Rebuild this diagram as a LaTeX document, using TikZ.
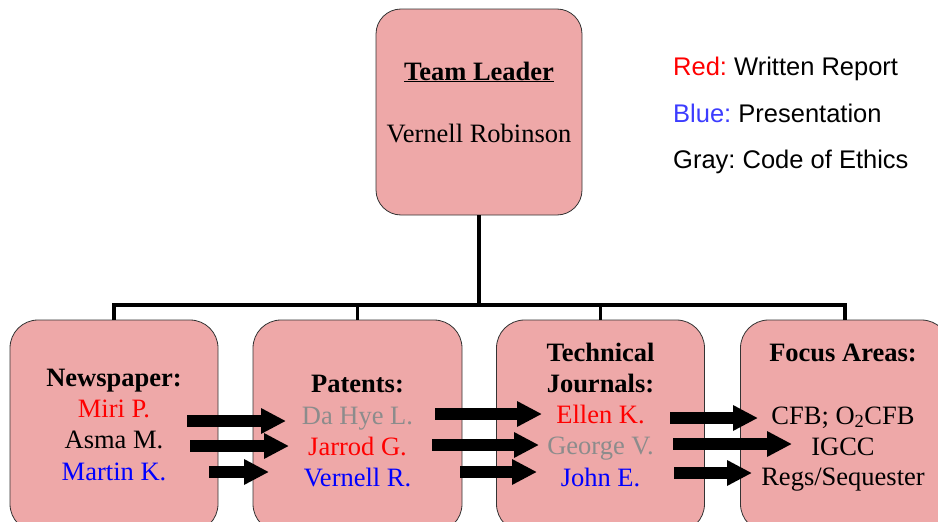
\documentclass[tikz,border=0pt]{standalone}
\usepackage{fontspec}
\setmainfont{Liberation Serif}
\newfontfamily\legendfont{Liberation Sans}
\usetikzlibrary{arrows.meta}
\frenchspacing
\definecolor{boxfill}{RGB}{238,168,168}
\definecolor{tred}{RGB}{255,0,0}
\definecolor{tblue}{RGB}{0,0,255}
\definecolor{lblue}{RGB}{60,60,255}
\definecolor{tgray}{RGB}{140,140,140}
\tikzset{
  orgbox/.style={draw=black!80, line width=0.8pt, fill=boxfill, rounded corners=28pt, inner sep=0pt},
  conn/.style={line width=3.5pt, black},
  fatarrow/.style={line width=11.5pt, -{Triangle[length=25pt,width=24pt]}},
  txt/.style={anchor=base, inner sep=0pt, font=\frenchspacing\fontsize{26.5}{31}\selectfont},
  btxt/.style={txt, font=\frenchspacing\fontsize{26.5}{31}\selectfont\bfseries},
  leg/.style={anchor=base west, inner sep=0pt, font=\frenchspacing\legendfont\fontsize{25.5}{30}\selectfont}
}
\begin{document}
\begin{tikzpicture}[x=1pt,y=-1pt]
\useasboundingbox (0,0) rectangle (938,522);
\clip (0,0) rectangle (938,522);
% boxes
\node[orgbox, minimum width=206pt, minimum height=206pt, rounded corners=25pt] (top) at (479,112) {};
\node[orgbox, minimum width=208pt, minimum height=212pt] (b1) at (114,426) {};
\node[orgbox, minimum width=209pt, minimum height=212pt] (b2) at (357.5,426) {};
\node[orgbox, minimum width=208pt, minimum height=212pt] (b3) at (600.5,426) {};
\node[orgbox, minimum width=209pt, minimum height=212pt] (b4) at (845,426) {};
% connectors
\coordinate (bus) at (479,305);
\draw[conn] (top.south) -- (bus);
\draw[conn] (bus) -| (b1.north);
\draw[conn] (bus) -| (b2.north);
\draw[conn] (bus) -| (b3.north);
\draw[conn] (bus) -| (b4.north);
% top text
\node[btxt] (tl) at (479,80) {\underline{Team Leader}};
\node[txt] (vr) at (479,142) {Vernell Robinson};
% box1
\node[btxt] (n1) at (114,386) {Newspaper:};
\node[txt, text=tred] (miri) at (114,417) {Miri P.};
\node[txt] (asma) at (114,448) {Asma M.};
\node[txt, text=tblue] (martin) at (114,480) {Martin K.};
% box2
\node[btxt] (n2) at (357.5,392) {Patents:};
\node[txt, text=tgray] (dahye) at (357.5,424) {Da Hye L.};
\node[txt, text=tred] (jarrod) at (357.5,455) {Jarrod G.};
\node[txt, text=tblue] (vern) at (357.5,486) {Vernell R.};
% box3
\node[btxt] (n3a) at (600.5,361) {Technical};
\node[btxt] (n3b) at (600.5,392) {Journals:};
\node[txt, text=tred] (ellen) at (600.5,423) {Ellen K.};
\node[txt, text=tgray] (george) at (600.5,454) {George V.};
\node[txt, text=tblue] (john) at (600.5,486) {John E.};
% box4
\node[btxt] (n4) at (843,361) {Focus Areas:};
\node[txt] (cfb) at (843,424) {CFB; O\textsubscript{2}CFB};
\node[txt] (igcc) at (843,455) {IGCC};
\node[txt] (regs) at (843,485) {Regs/Sequester};
% arrows
\coordinate (a1s) at (187,421); \coordinate (a1e) at (286,421);
\coordinate (a2s) at (190,446); \coordinate (a2e) at (289,446);
\coordinate (a3s) at (209,472); \coordinate (a3e) at (269,472);
\coordinate (a4s) at (435,414); \coordinate (a4e) at (542,414);
\coordinate (a5s) at (432,445); \coordinate (a5e) at (539,445);
\coordinate (a6s) at (460,472); \coordinate (a6e) at (537,472);
\coordinate (a7s) at (670,418); \coordinate (a7e) at (758,418);
\coordinate (a8s) at (673,444); \coordinate (a8e) at (792,444);
\coordinate (a9s) at (674,473); \coordinate (a9e) at (752,473);
\foreach \i in {1,...,9} {\draw[fatarrow] (a\i s) -- (a\i e);}
% legend
\node[leg] (l1) at (673,75) {\textcolor{tred}{Red:} Written Report};
\node[leg] (l2) at (673,122) {\textcolor{lblue}{Blue:} Presentation};
\node[leg] (l3) at (673,168) {Gray: Code of Ethics};
\end{tikzpicture}
\end{document}
